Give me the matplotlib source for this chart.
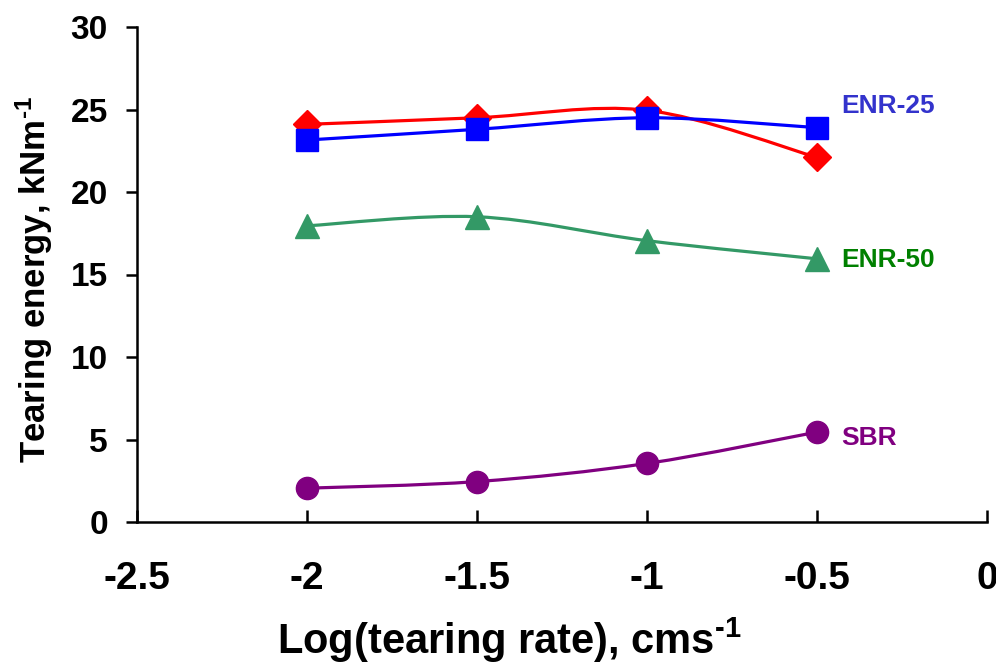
import matplotlib
matplotlib.use("Agg")
import matplotlib.pyplot as plt
from matplotlib.path import Path
from matplotlib.patches import PathPatch

# data
log_rate = [-2.0, -1.5, -1.0, -0.5]
nr = [24.1, 24.5, 24.95, 22.1]        # red diamonds (no label)
enr25 = [23.15, 23.8, 24.5, 23.9]
enr50 = [17.95, 18.5, 17.05, 15.95]
sbr = [2.05, 2.45, 3.55, 5.45]

x_ticks = [-2.5, -2, -1.5, -1, -0.5, 0]
x_ticklabels = ["-2.5", "-2", "-1.5", "-1", "-0.5", "0"]

# values, line colour, marker, marker size, label, label colour, label y
series = [
    (nr, "#ff0000", "D", 14, None, None, None),
    (enr25, "#0000ff", "s", 16, "ENR-25", "#3333cc", 25.2),
    (enr50, "#339966", "^", 17, "ENR-50", "#008000", 15.9),
    (sbr, "#800080", "o", 16, "SBR", "#800080", 5.1),
]

plt.rcParams["font.family"] = ["Liberation Sans", "DejaVu Sans"]
plt.rcParams["font.weight"] = "bold"
plt.rcParams["mathtext.fontset"] = "custom"
plt.rcParams["mathtext.rm"] = "Liberation Sans:bold"
plt.rcParams["mathtext.bf"] = "Liberation Sans:bold"
plt.rcParams["mathtext.default"] = "rm"


def smooth_path(xs, ys):
    # Excel-like smoothed line as cubic bezier segments
    pts = list(zip(xs, ys))
    verts = [pts[0]]
    codes = [Path.MOVETO]
    n = len(pts)
    for i in range(n - 1):
        p0 = pts[i - 1] if i > 0 else pts[i]
        p1 = pts[i]
        p2 = pts[i + 1]
        p3 = pts[i + 2] if i + 2 < n else pts[i + 1]
        c1 = (p1[0] + (p2[0] - p0[0]) / 6, p1[1] + (p2[1] - p0[1]) / 6)
        c2 = (p2[0] - (p3[0] - p1[0]) / 6, p2[1] - (p3[1] - p1[1]) / 6)
        verts += [c1, c2, p2]
        codes += [Path.CURVE4] * 3
    return Path(verts, codes)


fig = plt.figure(figsize=(9.96, 6.71), dpi=100)
ax = fig.add_axes([137 / 996, 149 / 671, 850 / 996, 495 / 671])

for i, (vals, col, mk, ms, label, lcol, ly) in enumerate(series):
    patch = PathPatch(smooth_path(log_rate, vals), facecolor="none",
                      edgecolor=col, lw=2.3, zorder=2 + i)
    ax.add_patch(patch)
    ax.plot(log_rate, vals, linestyle="none", marker=mk, markersize=ms,
            color=col, zorder=2 + i, clip_on=False)
    if label:
        ax.text(-0.43, ly, label, color=lcol, fontsize=19,
                fontweight="bold", va="center", ha="left")

ax.set_xlim(-2.5, 0)
ax.set_ylim(0, 30)
ax.set_xticks(x_ticks)
ax.set_xticklabels(x_ticklabels, fontsize=28, fontweight="bold")
ax.set_yticks(range(0, 31, 5))
ax.tick_params(axis="y", direction="out", length=8, width=1.8,
               labelsize=24, pad=13)
ax.tick_params(axis="x", direction="in", length=9, width=1.8, pad=28)

for s in ["top", "right"]:
    ax.spines[s].set_visible(False)
for s in ["left", "bottom"]:
    ax.spines[s].set_linewidth(1.8)

ax.set_ylabel(r"Tearing energy, kNm$^{\text{-1}}$", fontsize=25,
              fontweight="bold")
ax.yaxis.set_label_coords(-0.096, 0.49)
ax.set_xlabel(r"Log(tearing rate), cms$^{\text{-1}}$", fontsize=30,
              fontweight="bold")
ax.xaxis.set_label_coords(0.438, -0.19)

fig.savefig("out.png", dpi=100)
